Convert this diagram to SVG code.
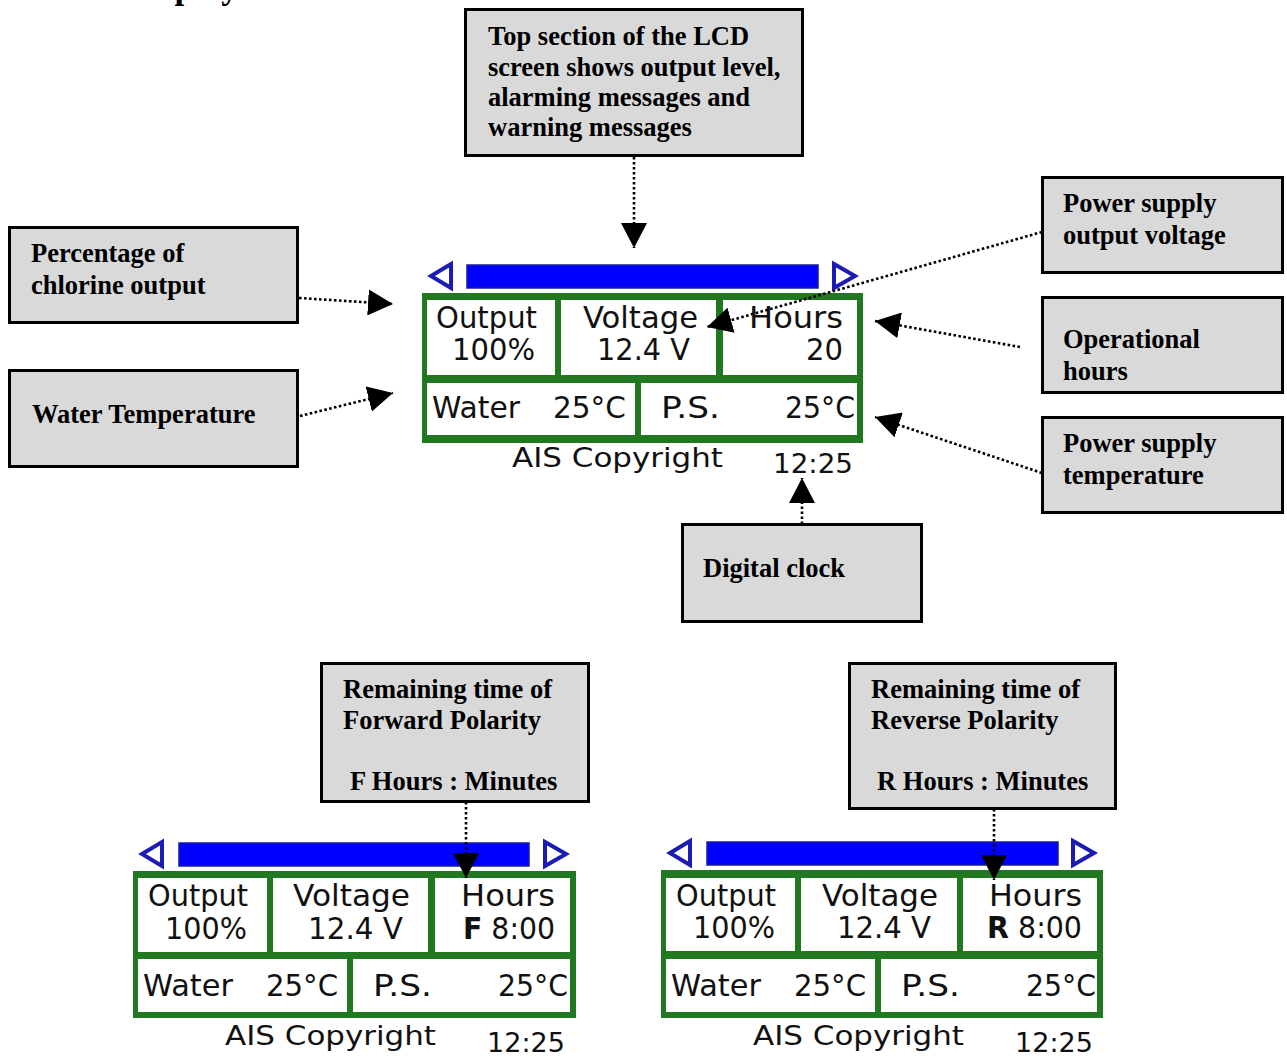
<svg xmlns="http://www.w3.org/2000/svg" width="1287" height="1056" viewBox="0 0 1287 1056">
<defs>
<style>
.box{fill:#d9d9d9;stroke:#000;stroke-width:3}
.lbl{font-family:"Liberation Serif","Times New Roman",serif;font-weight:bold;font-size:26.5px;fill:#000}
.con{fill:none;stroke:#000;stroke-width:2.6;stroke-dasharray:2.6 2.4}
.frame{fill:#217821}
.cell{fill:#fff}
.bar{fill:#0000ff;stroke:#1a1a9a;stroke-width:1.5}
.tri{fill:#fff;stroke:#1c1cb4;stroke-width:4;stroke-linejoin:miter}
.lcd{font-family:"DejaVu Sans","Liberation Sans",sans-serif;font-size:30px;fill:#111}
.lcds{font-family:"DejaVu Sans","Liberation Sans",sans-serif;font-size:27px;fill:#111}
</style>
<marker id="ah" markerUnits="userSpaceOnUse" markerWidth="26" markerHeight="26" refX="25" refY="13" orient="auto">
<path d="M0,0 L25,13 L0,26 z" fill="#000"/>
</marker>
</defs>
<rect width="1287" height="1056" fill="#fff"/>
<text x="126" y="-2.5" font-family="Liberation Serif, serif" font-weight="bold" font-size="35">Display</text>

<g id="lcd-main" transform="translate(422,293)">
<path class="tri" d="M9,-17 L29,-29 L29,-5 Z"/>
<rect class="bar" x="45" y="-28" width="351" height="23"/>
<path class="tri" d="M433,-17 L412,-29 L412,-5 Z"/>
<rect class="frame" x="0" y="0" width="441" height="150"/>
<rect class="cell" x="5" y="7" width="128" height="75"/>
<rect class="cell" x="139" y="7" width="155" height="75"/>
<rect class="cell" x="301" y="7" width="134" height="75"/>
<rect class="cell" x="5" y="90" width="208" height="52"/>
<rect class="cell" x="219" y="90" width="216" height="52"/>
<text class="lcd" x="14" y="35" textLength="101" lengthAdjust="spacingAndGlyphs">Output</text>
<text class="lcd" x="30" y="67" textLength="83" lengthAdjust="spacingAndGlyphs">100%</text>
<text class="lcd" x="161" y="35" textLength="115" lengthAdjust="spacingAndGlyphs">Voltage</text>
<text class="lcd" x="175" y="67" textLength="93" lengthAdjust="spacingAndGlyphs">12.4 V</text>
<text class="lcd" x="327" y="35" textLength="94" lengthAdjust="spacingAndGlyphs">Hours</text>
<text class="lcd" x="384" y="67" textLength="37" lengthAdjust="spacingAndGlyphs">20</text>
<text class="lcd" x="10" y="125" textLength="88" lengthAdjust="spacingAndGlyphs">Water</text>
<text class="lcd" x="131" y="125" textLength="73" lengthAdjust="spacingAndGlyphs">25°C</text>
<text class="lcd" x="239" y="125" textLength="59" lengthAdjust="spacingAndGlyphs">P.S.</text>
<text class="lcd" x="363" y="125" textLength="70" lengthAdjust="spacingAndGlyphs">25°C</text>
<text class="lcds" x="90" y="174" textLength="211" lengthAdjust="spacingAndGlyphs">AIS Copyright</text>
<text class="lcds" x="351" y="180" textLength="80" lengthAdjust="spacingAndGlyphs">12:25</text>
</g>

<g id="lcd-forward" transform="translate(133,871)">
<path class="tri" d="M9,-17 L29,-29 L29,-5 Z"/>
<rect class="bar" x="46" y="-28" width="350" height="23"/>
<path class="tri" d="M433,-17 L412,-29 L412,-5 Z"/>
<rect class="frame" x="0" y="0" width="443" height="147"/>
<rect class="cell" x="5" y="7" width="129" height="74"/>
<rect class="cell" x="140" y="7" width="155" height="74"/>
<rect class="cell" x="302" y="7" width="135" height="74"/>
<rect class="cell" x="5" y="88" width="209" height="53"/>
<rect class="cell" x="220" y="88" width="217" height="53"/>
<text class="lcd" x="15" y="35" textLength="100" lengthAdjust="spacingAndGlyphs">Output</text>
<text class="lcd" x="32" y="68" textLength="82" lengthAdjust="spacingAndGlyphs">100%</text>
<text class="lcd" x="160" y="35" textLength="117" lengthAdjust="spacingAndGlyphs">Voltage</text>
<text class="lcd" x="175" y="68" textLength="95" lengthAdjust="spacingAndGlyphs">12.4 V</text>
<text class="lcd" x="328" y="35" textLength="94" lengthAdjust="spacingAndGlyphs">Hours</text>
<text class="lcd" x="330" y="68" textLength="92" lengthAdjust="spacingAndGlyphs"><tspan font-weight="bold">F</tspan> 8:00</text>
<text class="lcd" x="10" y="125" textLength="90" lengthAdjust="spacingAndGlyphs">Water</text>
<text class="lcd" x="133" y="125" textLength="72" lengthAdjust="spacingAndGlyphs">25°C</text>
<text class="lcd" x="240" y="125" textLength="59" lengthAdjust="spacingAndGlyphs">P.S.</text>
<text class="lcd" x="365" y="125" textLength="70" lengthAdjust="spacingAndGlyphs">25°C</text>
<text class="lcds" x="92" y="174" textLength="211" lengthAdjust="spacingAndGlyphs">AIS Copyright</text>
<text class="lcds" x="354" y="181" textLength="78" lengthAdjust="spacingAndGlyphs">12:25</text>
</g>

<g id="lcd-reverse" transform="translate(661,870)">
<path class="tri" d="M9,-17 L29,-29 L29,-5 Z"/>
<rect class="bar" x="46" y="-28" width="351" height="23"/>
<path class="tri" d="M433,-17 L412,-29 L412,-5 Z"/>
<rect class="frame" x="0" y="0" width="442" height="148"/>
<rect class="cell" x="5" y="8" width="129" height="73"/>
<rect class="cell" x="140" y="8" width="156" height="73"/>
<rect class="cell" x="302" y="8" width="134" height="73"/>
<rect class="cell" x="5" y="89" width="209" height="53"/>
<rect class="cell" x="220" y="89" width="216" height="53"/>
<text class="lcd" x="15" y="36" textLength="100" lengthAdjust="spacingAndGlyphs">Output</text>
<text class="lcd" x="32" y="68" textLength="82" lengthAdjust="spacingAndGlyphs">100%</text>
<text class="lcd" x="161" y="36" textLength="116" lengthAdjust="spacingAndGlyphs">Voltage</text>
<text class="lcd" x="176" y="68" textLength="94" lengthAdjust="spacingAndGlyphs">12.4 V</text>
<text class="lcd" x="328" y="36" textLength="93" lengthAdjust="spacingAndGlyphs">Hours</text>
<text class="lcd" x="326" y="68" textLength="95" lengthAdjust="spacingAndGlyphs"><tspan font-weight="bold">R</tspan> 8:00</text>
<text class="lcd" x="10" y="126" textLength="90" lengthAdjust="spacingAndGlyphs">Water</text>
<text class="lcd" x="133" y="126" textLength="72" lengthAdjust="spacingAndGlyphs">25°C</text>
<text class="lcd" x="240" y="126" textLength="59" lengthAdjust="spacingAndGlyphs">P.S.</text>
<text class="lcd" x="365" y="126" textLength="70" lengthAdjust="spacingAndGlyphs">25°C</text>
<text class="lcds" x="92" y="175" textLength="211" lengthAdjust="spacingAndGlyphs">AIS Copyright</text>
<text class="lcds" x="354" y="182" textLength="78" lengthAdjust="spacingAndGlyphs">12:25</text>
</g>

<g id="box-top">
<rect class="box" x="465.5" y="9.5" width="337" height="146"/>
<text class="lbl" x="488" y="45">Top section of the LCD</text>
<text class="lbl" x="488" y="76">screen shows output level,</text>
<text class="lbl" x="488" y="106">alarming messages and</text>
<text class="lbl" x="488" y="136">warning messages</text>
</g>
<g id="box-percentage">
<rect class="box" x="9.5" y="227.5" width="288" height="95"/>
<text class="lbl" x="31" y="262">Percentage of</text>
<text class="lbl" x="31" y="294">chlorine output</text>
</g>
<g id="box-water">
<rect class="box" x="9.5" y="370.5" width="288" height="96"/>
<text class="lbl" x="32" y="423">Water Temperature</text>
</g>
<g id="box-psvoltage">
<rect class="box" x="1042.5" y="177.5" width="240" height="95"/>
<text class="lbl" x="1063" y="212">Power supply</text>
<text class="lbl" x="1063" y="244">output voltage</text>
</g>
<g id="box-hours">
<rect class="box" x="1042.5" y="297.5" width="240" height="95"/>
<text class="lbl" x="1063" y="348">Operational</text>
<text class="lbl" x="1063" y="380">hours</text>
</g>
<g id="box-pstemp">
<rect class="box" x="1042.5" y="417.5" width="240" height="95"/>
<text class="lbl" x="1063" y="452">Power supply</text>
<text class="lbl" x="1063" y="484">temperature</text>
</g>
<g id="box-clock">
<rect class="box" x="682.5" y="524.5" width="239" height="97"/>
<text class="lbl" x="703" y="577">Digital clock</text>
</g>
<g id="box-forward">
<rect class="box" x="321.5" y="663.5" width="267" height="138"/>
<text class="lbl" x="343" y="698">Remaining time of</text>
<text class="lbl" x="343" y="729">Forward Polarity</text>
<text class="lbl" x="350" y="790">F Hours : Minutes</text>
</g>
<g id="box-reverse">
<rect class="box" x="849.5" y="663.5" width="266" height="145"/>
<text class="lbl" x="871" y="698">Remaining time of</text>
<text class="lbl" x="871" y="729">Reverse Polarity</text>
<text class="lbl" x="877" y="790">R Hours : Minutes</text>
</g>

<g id="connectors">
<path class="con" d="M634,157 L634,248" marker-end="url(#ah)"/>
<path class="con" d="M299,298 L393,304" marker-end="url(#ah)"/>
<path class="con" d="M300,416 L393,393" marker-end="url(#ah)"/>
<path class="con" d="M1042,232 L707,327" marker-end="url(#ah)"/>
<path class="con" d="M1020,347 L875,321" marker-end="url(#ah)"/>
<path class="con" d="M1042,473 L875,417" marker-end="url(#ah)"/>
<path class="con" d="M802,524 L802,478" marker-end="url(#ah)"/>
<path class="con" d="M466,802 L466,878" marker-end="url(#ah)"/>
<path class="con" d="M994,809 L994,880" marker-end="url(#ah)"/>
</g>
</svg>
